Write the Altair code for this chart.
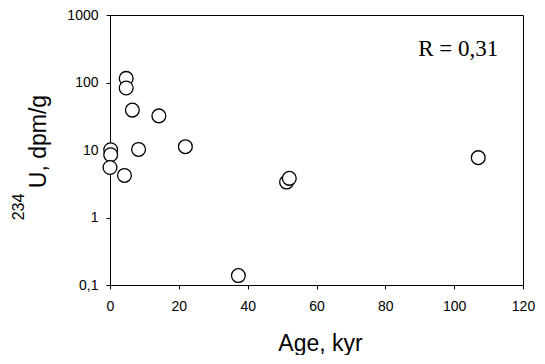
import altair as alt
import pandas as pd

age = [0.2, 0.2, 0.0, 4.2, 4.7, 4.7, 6.5, 8.3, 14.2, 21.9, 37.3, 51.3, 52.1, 107.0]
u234 = [10.1, 8.5, 5.5, 4.2, 115, 83, 39, 10.2, 32, 11.2, 0.138, 3.35, 3.8, 7.7]
x_ticks = [0, 20, 40, 60, 80, 100, 120]
y_ticks = [0.1, 1, 10, 100, 1000]
r_label = ["R = 0,31"]
r_pos_x = [112.8]
r_pos_y = [247]

df = pd.DataFrame({"age": age, "u": u234})
ann = pd.DataFrame({"t": r_label, "x": r_pos_x, "y": r_pos_y})

xscale = alt.Scale(domain=[0, 120], nice=False, zero=False)
yscale = alt.Scale(type="log", domain=[0.1, 1000], nice=False)

points = alt.Chart(df).mark_point(
    shape="circle", filled=False, fill="white", fillOpacity=1,
    stroke="black", strokeWidth=1.3, size=190, opacity=1
).encode(
    x=alt.X("age:Q", scale=xscale, axis=alt.Axis(
        values=x_ticks, title="Age, kyr", grid=False,
        domainColor="black", tickColor="black", tickSize=4,
        labelFont="Liberation Sans", labelFontSize=14, labelColor="black",
        labelPadding=10, labelFlush=False,
        titleFont="Liberation Sans", titleFontSize=23, titleFontWeight="normal",
        titleColor="black", titleY=65, titleBaseline="alphabetic", titleX=210,
    )),
    y=alt.Y("u:Q", scale=yscale, axis=alt.Axis(
        values=y_ticks, title="U, dpm/g", grid=False,
        labelExpr="datum.value < 1 ? '0,1' : format(datum.value, 'd')",
        domainColor="black", tickColor="black", tickSize=4,
        labelFont="Liberation Sans", labelFontSize=14, labelColor="black",
        labelPadding=8, labelFlush=False,
        titleFont="Liberation Sans", titleFontSize=23, titleFontWeight="normal",
        titleColor="black", titleAngle=270, titleX=-65, titleY=126,
        titleAlign="center", titleBaseline="alphabetic",
    )),
)

sup = alt.Chart(pd.DataFrame({"t": ["234"]})).mark_text(
    font="Liberation Sans", fontSize=16, angle=270, align="center",
    baseline="alphabetic", color="black"
).encode(text="t:N", x=alt.value(-86), y=alt.value(192))

rtext = alt.Chart(ann).mark_text(
    font="Liberation Serif", fontSize=23, align="right",
    baseline="alphabetic", color="black"
).encode(
    x=alt.X("x:Q", scale=xscale),
    y=alt.Y("y:Q", scale=yscale),
    text="t:N",
)

chart = alt.layer(points, rtext, sup).properties(
    width=413, height=270,
    autosize=alt.AutoSizeParams(type="none"),
    padding={"left": 102, "top": 7, "right": 14, "bottom": 70},
    background="white",
).configure_view(stroke="black", strokeWidth=1)

chart.save("out.html", embed_options={"renderer": "svg", "actions": False})
